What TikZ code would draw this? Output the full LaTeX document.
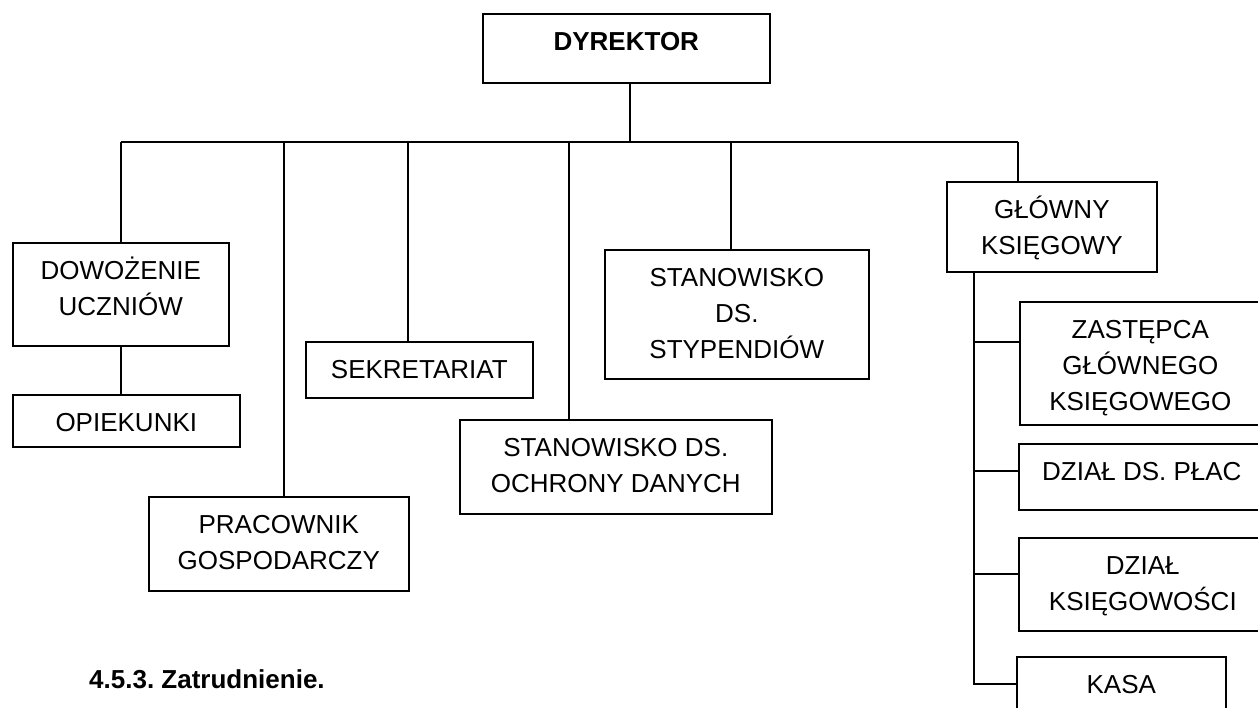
\documentclass[tikz,border=0pt]{standalone}
\usepackage{fontspec}
\setmainfont{Liberation Sans}
\usetikzlibrary{calc}
\newcommand\boxstrut{\rule{0pt}{26pt}}
\frenchspacing
\begin{document}
\begin{tikzpicture}[x=1pt,y=-1pt,
  box/.style={draw=black, line width=1.6pt, inner sep=0pt, anchor=north west, rectangle},
  lbl/.style={anchor=north, inner sep=0pt, align=center, font=\fontsize{26}{36}\selectfont},
  con/.style={draw=black, line width=1.6pt}]
\useasboundingbox (0,0) rectangle (1258,707);
\clip (0,0) rectangle (1258,707);
% boxes
\node[box, minimum width=287pt, minimum height=69pt] (dyr) at (482,13) {};
\node[box, minimum width=216pt, minimum height=103pt] (dow) at (12,242) {};
\node[box, minimum width=227pt, minimum height=52pt] (opi) at (12,394) {};
\node[box, minimum width=227pt, minimum height=56pt] (sek) at (305,341) {};
\node[box, minimum width=260pt, minimum height=94pt] (pra) at (148,496) {};
\node[box, minimum width=312pt, minimum height=94pt] (och) at (459,419) {};
\node[box, minimum width=264pt, minimum height=129pt] (sty) at (604,249) {};
\node[box, minimum width=210pt, minimum height=90pt] (glo) at (946,181) {};
\node[box, minimum width=241pt, minimum height=123pt] (zas) at (1019,301) {};
\node[box, minimum width=246pt, minimum height=66pt] (pla) at (1018,443) {};
\node[box, minimum width=248pt, minimum height=93pt] (ksi) at (1018,537) {};
\node[box, minimum width=209pt, minimum height=54pt] (kas) at (1016,656) {};
% labels
\node[lbl, font=\fontsize{26}{36}\selectfont\bfseries] (dyrl) at ($(dyr.north)+(0,11.6)$) {\boxstrut DYREKTOR};
\node[lbl] (dowl) at ($(dow.north)+(0,11.6)$) {\boxstrut DOWOŻENIE\\UCZNIÓW};
\node[lbl] (opil) at ($(opi.north)+(0,11.6)$) {\boxstrut OPIEKUNKI};
\node[lbl] (sekl) at ($(sek.north)+(0,11.6)$) {\boxstrut SEKRETARIAT};
\node[lbl] (pral) at ($(pra.north)+(0,11.6)$) {\boxstrut PRACOWNIK\\GOSPODARCZY};
\node[lbl] (ochl) at ($(och.north)+(0,11.6)$) {\boxstrut STANOWISKO DS.\\OCHRONY DANYCH};
\node[lbl] (styl) at ($(sty.north)+(0,11.6)$) {\boxstrut STANOWISKO\\DS.\\STYPENDIÓW};
\node[lbl] (glol) at ($(glo.north)+(0,11.6)$) {\boxstrut GŁÓWNY\\KSIĘGOWY};
\node[lbl] (zasl) at ($(zas.north)+(0,11.6)$) {\boxstrut ZASTĘPCA\\GŁÓWNEGO\\KSIĘGOWEGO};
\node[lbl] (plal) at ($(pla.north)+(0,11.6)$) {\boxstrut DZIAŁ DS. PŁAC};
\node[lbl] (ksil) at ($(ksi.north)+(0,11.6)$) {\boxstrut DZIAŁ\\KSIĘGOWOŚCI};
\node[lbl] (kasl) at ($(kas.north)+(0,11.6)$) {\boxstrut KASA};
% heading
\node[anchor=base west, inner sep=0pt, font=\fontsize{26}{32}\selectfont\bfseries] (head) at (89,688) {4.5.3. Zatrudnienie.};
% connectors
\coordinate (bL) at (121,142);
\coordinate (b2) at (284,142);
\coordinate (b3) at (408,142);
\coordinate (b4) at (569,142);
\coordinate (b5) at (731,142);
\coordinate (bR) at (1018,142);
\coordinate (d0) at ($(dyr.south)+(3.5,0)$);
\draw[con] (d0) -- (d0 |- bL);
\draw[con] (bL) -- (bR);
\draw[con] (bL) -- (bL |- dow.north);
\draw[con] (dow.south) -- (dow.south |- opi.north);
\draw[con] (b2) -- (b2 |- pra.north);
\draw[con] (b3) -- (b3 |- sek.north);
\draw[con] (b4) -- (b4 |- och.north);
\draw[con] (b5) -- (b5 |- sty.north);
\draw[con] (bR) -- (bR |- glo.north);
\coordinate (g0) at ($(glo.south west)+(28,0)$);
\coordinate (c1) at ($(zas.north west)+(0,41)$);
\coordinate (c2) at ($(pla.north west)+(0,28)$);
\coordinate (c3) at ($(ksi.north west)+(0,37)$);
\draw[con] (g0) -- (g0 |- kas.west) -- (kas.west);
\draw[con] (g0 |- c1) -- (c1);
\draw[con] (g0 |- c2) -- (c2);
\draw[con] (g0 |- c3) -- (c3);
\end{tikzpicture}
\end{document}
